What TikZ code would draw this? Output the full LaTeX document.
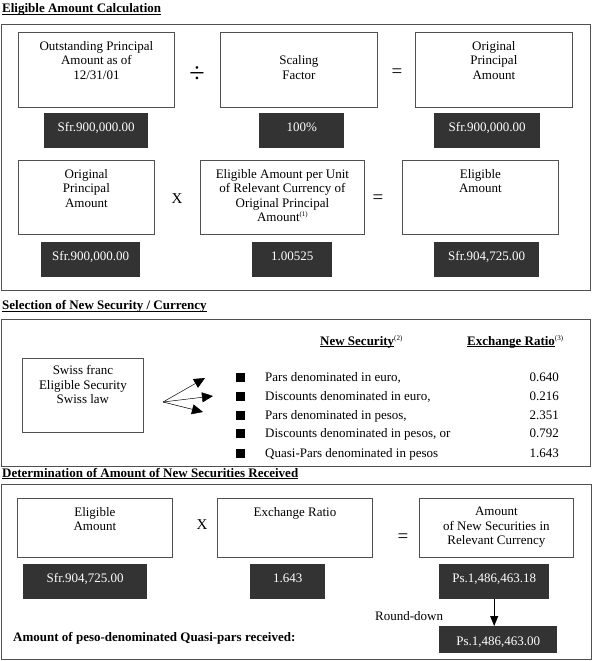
\documentclass[tikz,border=0pt]{standalone}
\usepackage{fontspec}
\setmainfont{Liberation Serif}
\usetikzlibrary{arrows.meta}
\definecolor{dk}{HTML}{333333}
\definecolor{ln}{HTML}{505050}
\newcommand{\myul}[1]{\setbox0=\hbox{#1}\rlap{\rule[-1.8pt]{\wd0}{0.8pt}}\box0}
\newcommand{\sups}[1]{\raisebox{5pt}{\fontsize{7}{8}\selectfont #1}}
\begin{document}
\begin{tikzpicture}[x=1pt,y=-1pt,
 every node/.style={font=\fontsize{13}{14.5}\selectfont},
 frame/.style={draw=ln,line width=0.9pt,anchor=north west,inner sep=0pt},
 wbox/.style={draw=ln,line width=0.8pt,anchor=north west,inner sep=0pt},
 wtxt/.style={anchor=north,align=center,inner sep=0pt},
 dbox/.style={fill=dk,text=white,anchor=north west,inner xsep=0pt,inner ysep=4pt,text height=14.5pt,text depth=12.5pt},
 op/.style={font=\fontsize{19}{19}\selectfont,inner sep=0pt},
 opd/.style={font=\fontsize{28}{28}\selectfont,inner sep=0pt},
 opx/.style={font=\fontsize{15}{15}\selectfont,inner sep=0pt},
 ttl/.style={font=\bfseries\fontsize{13}{14.5}\selectfont,anchor=base west,inner sep=0pt},
 bul/.style={fill=black,minimum size=9pt,inner sep=0pt},
 item/.style={anchor=base west,inner sep=0pt},
 num/.style={anchor=base east,inner sep=0pt},
 arr/.style={line width=0.5pt,-{Triangle[length=11pt,width=10pt]}},
]
\useasboundingbox (0,0) rectangle (594,661);

% ---------- Section 1 ----------
\node[ttl] (t1) at (2,12.7) {\myul{Eligible Amount Calculation}};
\node[frame,minimum width=589pt,minimum height=266pt] (f1) at (1,24) {};

\node[wbox,minimum width=156pt,minimum height=75pt] (a1) at (18,32) {};
\node[wtxt] (a1t) at ([yshift=-9pt]a1.north) {Outstanding Principal\\Amount as of\\12/31/01};
\node[wbox,minimum width=157pt,minimum height=75pt] (a2) at (220,32) {};
\node[wtxt] (a2t) at ([yshift=-23.5pt]a2.north) {Scaling\\Factor};
\node[wbox,minimum width=157pt,minimum height=75pt] (a3) at (415,32) {};
\node[wtxt] (a3t) at ([yshift=-9pt]a3.north) {Original\\Principal\\Amount};
\node[opd] (opa1) at (197,75) {÷};
\node[op] (opa2) at (397,73) {=};
\node[dbox,minimum width=104pt] (a1d) at (44,113) {Sfr.900,000.00};
\node[dbox,minimum width=85pt] (a2d) at (259,113) {100\%};
\node[dbox,minimum width=106pt] (a3d) at (434,113) {Sfr.900,000.00};

\node[wbox,minimum width=136pt,minimum height=74pt] (b1) at (18,160) {};
\node[wtxt] (b1t) at ([yshift=-9pt]b1.north) {Original\\Principal\\Amount};
\node[opx] (opb1) at (177,199) {X};
\node[wbox,minimum width=164pt,minimum height=74pt] (b2) at (200,160) {};
\node[wtxt] (b2t) at ([yshift=-9pt]b2.north) {Eligible Amount per Unit\\of Relevant Currency of\\Original Principal\\Amount\sups{(1)}};
\node[op] (opb2) at (378,199) {=};
\node[wbox,minimum width=156pt,minimum height=74pt] (b3) at (402,160) {};
\node[wtxt] (b3t) at ([yshift=-9pt]b3.north) {Eligible\\Amount};
\node[dbox,minimum width=99pt] (b1d) at (41,242) {Sfr.900,000.00};
\node[dbox,minimum width=80pt] (b2d) at (252,242) {1.00525};
\node[dbox,minimum width=105pt] (b3d) at (434,242) {Sfr.904,725.00};

% ---------- Section 2 ----------
\node[ttl] (t2) at (2,309.5) {\myul{Selection of New Security / Currency}};
\node[frame,minimum width=589pt,minimum height=147pt] (f2) at (1,319) {};
\node[wbox,minimum width=121pt,minimum height=74pt] (sw) at (22,358) {};
\node[wtxt] (swt) at ([yshift=-7.5pt]sw.north) {Swiss franc\\Eligible Security\\Swiss law};

\coordinate (ao) at (163,402);
\coordinate (at1) at (205,378);
\coordinate (at2) at (213,396);
\coordinate (at3) at (203,412);
\draw[arr] (ao) -- (at1);
\draw[arr] (ao) -- (at2);
\draw[arr] (ao) -- (at3);

\node[item] (h1) at (320,345) {{\bfseries\myul{New Security}}\sups{(2)}};
\node[item] (h2) at (467,345) {{\bfseries\myul{Exchange Ratio}}\sups{(3)}};

\node[bul] (q1) at (240,377) {};
\node[bul] (q2) at (240,396.5) {};
\node[bul] (q3) at (240,415) {};
\node[bul] (q4) at (240,433.5) {};
\node[bul] (q5) at (240,453) {};
\node[item] (i1) at (265,381) {Pars denominated in euro,};
\node[item] (i2) at (265,400.5) {Discounts denominated in euro,};
\node[item] (i3) at (265,419) {Pars denominated in pesos,};
\node[item] (i4) at (265,437.5) {Discounts denominated in pesos, or};
\node[item] (i5) at (265,457) {Quasi-Pars denominated in pesos};
\node[num] (n1) at (559,381) {0.640};
\node[num] (n2) at (559,400.5) {0.216};
\node[num] (n3) at (559,419) {2.351};
\node[num] (n4) at (559,437.5) {0.792};
\node[num] (n5) at (559,457) {1.643};

% ---------- Section 3 ----------
\node[ttl] (t3) at (2,477.3) {\myul{Determination of Amount of New Securities Received}};
\node[frame,minimum width=590pt,minimum height=175pt] (f3) at (1,484) {};

\node[wbox,minimum width=155pt,minimum height=59pt] (c1) at (17,498) {};
\node[wtxt] (c1t) at ([yshift=-9pt]c1.north) {Eligible\\Amount};
\node[opx] (opc1) at (202,525) {X};
\node[wbox,minimum width=155pt,minimum height=59pt] (c2) at (217,498) {};
\node[wtxt] (c2t) at ([yshift=-9pt]c2.north) {Exchange Ratio};
\node[op] (opc2) at (403,538) {=};
\node[wbox,minimum width=154pt,minimum height=59pt] (c3) at (419,498) {};
\node[wtxt] (c3t) at ([yshift=-9pt]c3.north) {Amount\\of New Securities in\\Relevant Currency};
\node[dbox,minimum width=124pt] (c1d) at (23,564) {Sfr.904,725.00};
\node[dbox,minimum width=75pt] (c2d) at (250,564) {1.643};
\node[dbox,minimum width=110pt] (c3d) at (439,564) {Ps.1,486,463.18};
\node[dbox,minimum width=118pt,text height=15pt,text depth=4pt] (fin) at (439,626) {Ps.1,486,463.00};
\draw[line width=0.8pt,-{Triangle[length=10pt,width=8pt]}] (c3d.south) -- (c3d.south |- fin.north);
\node[item] (rd) at (375,620) {Round-down};
\node[item,font=\bfseries\fontsize{13}{14.5}\selectfont] (amt) at (13,641) {Amount of peso-denominated Quasi-pars received:};
\end{tikzpicture}
\end{document}
